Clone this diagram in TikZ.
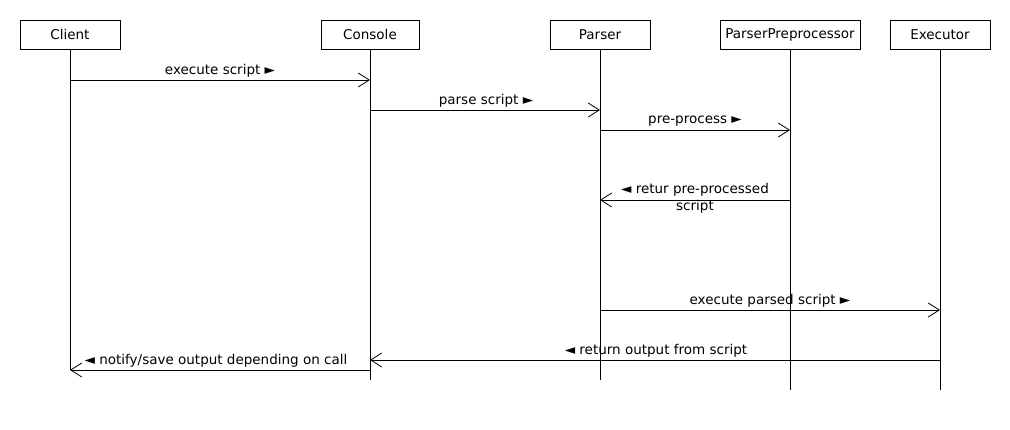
\documentclass[tikz,border=0pt]{standalone}
\usepackage{fontspec}
\setmainfont{DejaVu Sans}
\usetikzlibrary{arrows.meta}
\begin{document}
\begin{tikzpicture}[x=1pt,y=-1pt,line width=0.8pt,
  actor/.style={draw,minimum height=29pt,inner sep=0pt,font=\fontsize{13.5}{15}\selectfont},
  lifeline/.style={draw},
  msg/.style={-{Straight Barb[length=11pt,width=14pt,line width=0.8pt]}},
  lbl/.style={font=\fontsize{13.5}{15}\selectfont,inner sep=0pt,align=center}]
\useasboundingbox (0,0) rectangle (1010,430);
% participants
\node[actor,minimum width=100pt] (client) at (70,34.5) {Client};
\node[actor,minimum width=98pt] (console) at (370,34.5) {Console};
\node[actor,minimum width=100pt] (parser) at (600,34.5) {Parser};
\node[actor,minimum width=140pt] (pp) at (790,34.5) {ParserPreprocessor};
\node[actor,minimum width=100pt] (exec) at (940,34.5) {Executor};
% lifeline ends
\coordinate (clientEnd) at (70,370);
\coordinate (consoleEnd) at (370,380);
\coordinate (parserEnd) at (600,380);
\coordinate (ppEnd) at (790,390);
\coordinate (execEnd) at (940,390);
\draw[lifeline] (client.south) -- (clientEnd);
\draw[lifeline] (console.south) -- (consoleEnd);
\draw[lifeline] (parser.south) -- (parserEnd);
\draw[lifeline] (pp.south) -- (ppEnd);
\draw[lifeline] (exec.south) -- (execEnd);
% messages
\draw[msg] (client.south |- 0,80) -- (console.south |- 0,80);
\node[lbl] (m1) at (220,71) {execute script ►};
\draw[msg] (console.south |- 0,110) -- (parser.south |- 0,110);
\node[lbl] (m2) at (486,101) {parse script ►};
\draw[msg] (parser.south |- 0,130) -- (pp.south |- 0,130);
\node[lbl] (m3) at (695,121) {pre-process ►};
\draw[msg] (pp.south |- 0,200) -- (parser.south |- 0,200);
\node[lbl,font=\fontsize{13.5}{17}\selectfont] (m4) at (695,198.5) {◄ retur pre-processed\\script};
\draw[msg] (parser.south |- 0,310) -- (exec.south |- 0,310);
\node[lbl] (m5) at (770,301) {execute parsed script ►};
\draw[msg] (exec.south |- 0,360) -- (console.south |- 0,360);
\node[lbl] (m6) at (656,351) {◄ return output from script};
\draw[msg] (console.south |- 0,370) -- (client.south |- 0,370);
\node[lbl] (m7) at (216,361) {◄ notify/save output depending on call};
\end{tikzpicture}
\end{document}
